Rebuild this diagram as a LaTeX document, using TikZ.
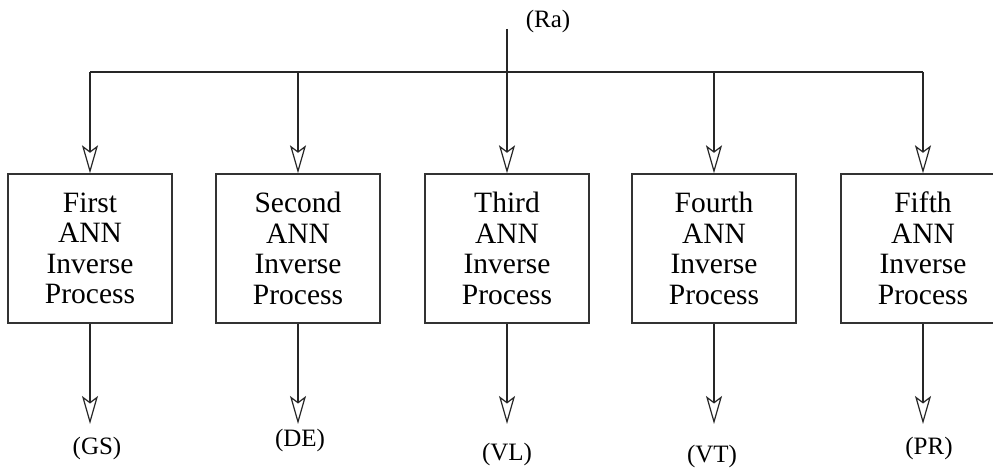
\documentclass[tikz,border=0pt]{standalone}
\usepackage{fontspec}
\setmainfont{Liberation Serif}
\usetikzlibrary{arrows.meta}
\begin{document}
\begin{tikzpicture}[x=1pt,y=-1pt,
  proc/.style={draw=black!80,line width=1.4pt,minimum width=164pt,minimum height=149pt,
    align=center,inner sep=0pt,font=\fontsize{29.5}{30.5}\selectfont},
  lbl/.style={font=\fontsize{25}{28}\selectfont,inner sep=0pt},
  wire/.style={draw=black!85,line width=1.2pt},
  arr/.style={wire,-{Stealth[open,fill=white,length=28pt,width=16pt,inset=6pt]}}]
\useasboundingbox (0,0) rectangle (993,468);
\fill[white] (0,0) rectangle (993,468);
\begin{scope}
\clip (0,0) rectangle (993,468);
\node[proc] (b1) at (90,248.5) {First\\ANN\\Inverse\\Process};
\node[proc] (b2) at (298,248.5) {Second\\ANN\\Inverse\\Process};
\node[proc] (b3) at (507,248.5) {Third\\ANN\\Inverse\\Process};
\node[proc] (b4) at (714,248.5) {Fourth\\ANN\\Inverse\\Process};
\node[proc] (b5) at (923,248.5) {Fifth\\ANN\\Inverse\\Process};
\end{scope}
\node[lbl] (ra) at (548,21) {(Ra)};
\node[lbl] (gs) at (97,448) {(GS)};
\node[lbl] (de) at (300,440) {(DE)};
\node[lbl] (vl) at (507,454) {(VL)};
\node[lbl] (vt) at (712,456) {(VT)};
\node[lbl] (pr) at (929,448) {(PR)};
\coordinate (src) at (507,29);
\coordinate (j1) at (90,72);
\coordinate (j2) at (298,72);
\coordinate (j4) at (714,72);
\coordinate (j5) at (923,72);
\coordinate (o1) at (90,424);
\coordinate (o2) at (298,424);
\coordinate (o3) at (507,424);
\coordinate (o4) at (714,424);
\coordinate (o5) at (923,424);
\draw[wire] (j1) -- (j5);
\draw[arr] (src) -- (b3.north);
\draw[arr] (j1) -- (b1.north);
\draw[arr] (j2) -- (b2.north);
\draw[arr] (j4) -- (b4.north);
\draw[arr] (j5) -- (b5.north);
\draw[arr] (b1.south) -- (o1);
\draw[arr] (b2.south) -- (o2);
\draw[arr] (b3.south) -- (o3);
\draw[arr] (b4.south) -- (o4);
\draw[arr] (b5.south) -- (o5);
\end{tikzpicture}
\end{document}
